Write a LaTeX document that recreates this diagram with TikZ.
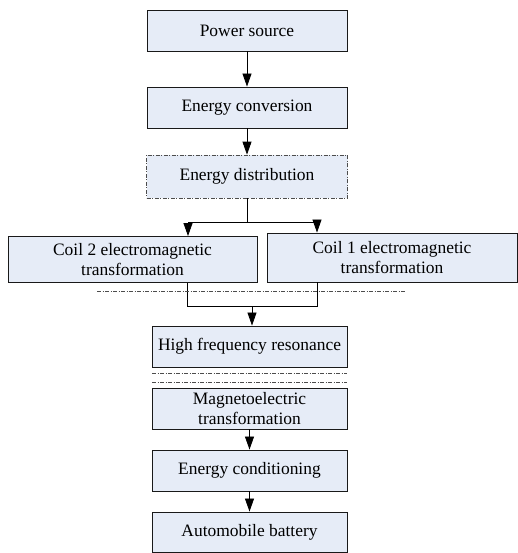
\documentclass[tikz,border=0pt]{standalone}
\usepackage{fontspec}
\setmainfont{Liberation Serif}
\newfontfamily\tnrfont{Liberation Serif}
\usetikzlibrary{arrows.meta}
\definecolor{boxfill}{RGB}{230,236,247}
\begin{document}
\begin{tikzpicture}[x=1bp,y=-1bp,
  blk/.style={draw=black!90, line width=0.9bp, fill=boxfill, inner sep=0pt,
              font=\tnrfont\fontsize{17.5}{21}\selectfont, align=center},
  arr/.style={-{Triangle[length=13bp,width=9bp]}, line width=0.8bp},
  ln/.style={line width=0.8bp},
  dd/.style={dash pattern=on 4bp off 1.5bp on 1bp off 1.5bp, line width=0.7bp, draw=black!70}]
\useasboundingbox (0,0) rectangle (518,553);
\node[blk, minimum width=200bp, minimum height=41bp] (ps) at (247,30.5) {Power source};
\node[blk, minimum width=200bp, minimum height=41bp] (ec) at (247,107.5) {Energy conversion};
\node[blk, dd, fill=boxfill, minimum width=201bp, minimum height=43bp] (ed) at (247,176.5) {Energy distribution};
\node[blk, minimum width=249bp, minimum height=46bp] (c2) at (132.5,259.5) {Coil 2 electromagnetic\\transformation};
\node[blk, minimum width=250bp, minimum height=49bp] (c1) at (392,257.5) {Coil 1 electromagnetic\\transformation};
\node[blk, minimum width=195bp, minimum height=41bp] (hf) at (249.5,346.5) {High frequency resonance};
\node[blk, minimum width=195bp, minimum height=41bp] (me) at (249.5,408.5) {Magnetoelectric\\transformation};
\node[blk, minimum width=195bp, minimum height=41bp] (co) at (249.5,470.5) {Energy conditioning};
\node[blk, minimum width=195bp, minimum height=40bp] (ab) at (249.5,532) {Automobile battery};

\draw[arr] (ps) -- (ec);
\draw[arr] (ec) -- (ed);

\coordinate (split) at (247,222);
\coordinate (bl) at (188,222);
\coordinate (br) at (317,222);
\draw[ln] (ed.south) -- (split);
\draw[ln] (bl) -- (br);
\draw[arr] (bl) -- (bl |- c2.north);
\draw[arr] (br) -- (br |- c1.north);

\coordinate (ml) at (187,306);
\coordinate (mr) at (317,306);
\coordinate (mm) at (252,306);
\draw[ln] (ml |- c2.south) -- (ml) -- (mr) -- (mr |- c1.south);
\draw[arr] (mm) -- (mm |- hf.north);

\draw[dd] (97,291) -- (405,291);
\draw[dd] (152,373) -- (347,373);
\draw[dd] (152,382) -- (347,382);

\draw[arr] (me) -- (co);
\draw[arr] (co) -- (ab);
\end{tikzpicture}
\end{document}
